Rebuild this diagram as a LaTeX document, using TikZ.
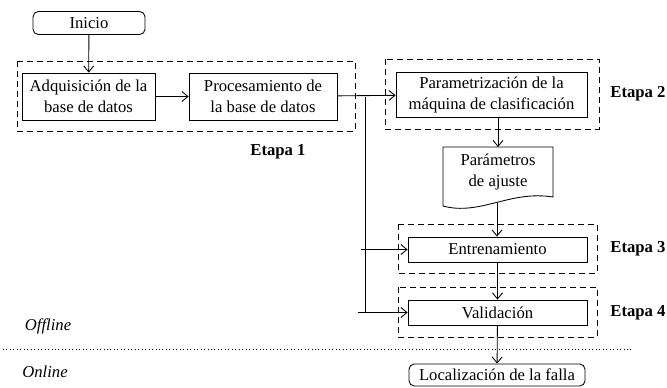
\documentclass[tikz,border=0pt]{standalone}
\usepackage{fontspec}
\setmainfont{Liberation Serif}
\usetikzlibrary{arrows.meta,positioning}
\newlength\px
\setlength\px{0.75pt}
\tikzset{
  texto/.style={font=\fontsize{12.5}{15.75}\selectfont},
  caja/.style={draw, rectangle, inner sep=1pt, align=center, texto},
  inicial/.style={caja, rounded corners=4pt},
  etapa/.style={draw, dashed, dash pattern=on 4.5pt off 3pt},
  flecha/.style={-{Straight Barb[length=4.5pt,width=7.5pt]}},
  rotulo/.style={font=\fontsize{12.5}{15}\selectfont\bfseries}
}

\begin{document}
\begin{tikzpicture}[x=0.75pt,y=-0.75pt,line width=0.65pt]
  \useasboundingbox (0,0) rectangle (667,387);
  % etapas
  \draw[etapa] (17,61) rectangle (355,131);
  \draw[etapa] (385,59) rectangle (599,129);
  \draw[etapa] (398,224) rectangle (597,273);
  \draw[etapa] (398,287) rectangle (597,337);
  \node[rotulo] (e1) at (278,152) {Etapa 1};
  \foreach \n/\y in {2/94, 3/249, 4/313} {
    \node[rotulo] (e\n) at (638,\y) {Etapa \n};
  }
  % bloques
  \node[inicial, minimum width=112\px, minimum height=23\px] (inicio) at (89,23) {Inicio};
  \node[caja, minimum width=133\px, minimum height=47\px] (adq) at (88.5,96.5) {Adquisición de la\\base de datos};
  \node[caja, minimum width=148\px, minimum height=47\px] (proc) at (263,96.5) {Procesamiento de\\la base de datos};
  \node[caja, minimum width=191\px, minimum height=45\px] (param) at (491.5,94.5) {Parametrización de la\\máquina de clasificación};
  \node[texto, align=center] (ajuste) at (498,172) {Parámetros\\de ajuste};
  \draw (443,206) -- (443,147) -- (553,147) -- (553,197)
        .. controls (510,190) and (480,216) .. (443,206);
  \coordinate (ajbot) at (497,203);
  \node[caja, minimum width=179\px, minimum height=25\px] (entren) at (497.5,249.5) {Entrenamiento};
  \node[caja, minimum width=179\px, minimum height=25\px] (valid) at (497.5,312.5) {Validación};
  \node[inicial, minimum width=176\px, minimum height=22\px] (local) at (497,375) {Localización de la falla};
  % conexiones
  \draw[flecha] (inicio) -- (adq);
  \draw[flecha] (adq) -- (proc);
  \draw[flecha] (proc) -- (param);
  \coordinate (rama) at (365,96.5);
  \coordinate (ramaE) at (361,249.5);
  \coordinate (ramaV) at (358,312.5);
  \draw (rama) -- (rama |- ramaV);
  \draw[flecha] (ramaE) -- (entren.west);
  \draw[flecha] (ramaV) -- (valid.west);
  \draw[flecha] (ajuste.north |- param.south) -- (ajuste.north |- 0,147);
  \draw[flecha] (ajbot) -- (entren.north -| ajbot);
  \draw[flecha] (entren) -- (valid);
  \draw[flecha] (valid) -- (local);
  % offline / online
  \draw[dotted, line width=0.6pt] (3,349) -- (633,349);
  \node[font=\fontsize{12.5}{15}\selectfont\itshape] (off) at (48,326) {Offline};
  \node[font=\fontsize{12.5}{15}\selectfont\itshape] (on) at (45,372) {Online};
\end{tikzpicture}
\end{document}
